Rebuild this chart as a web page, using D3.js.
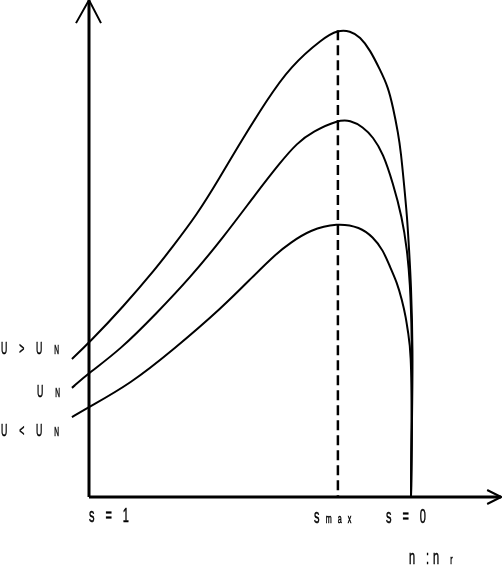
<!DOCTYPE html>
<html>
<head>
<meta charset="utf-8">
<script src="https://cdn.jsdelivr.net/npm/d3@7"></script>
<style>
  body { margin: 0; background: #fff; }
  svg { display: block; will-change: transform; }
  text { font-family: "Liberation Sans", Arial, sans-serif; fill: #000; stroke: #000; stroke-width: 0.5; }
</style>
</head>
<body>
<script>
// slip s (1 = standstill, 0 = synchronous) and torque (1 = peak at U_N)
var sHigh = [1.053, 1.0, 0.894, 0.789, 0.748, 0.665, 0.593, 0.531, 0.447, 0.376, 0.273, 0.227, 0.189, 0.158, 0.127, 0.096, 0.071, 0.056, 0.040, 0.031, 0.022, 0.012, 0.006, 0.0, -0.006, -0.003, 0];
var tHigh = [0.368, 0.411, 0.507, 0.613, 0.659, 0.752, 0.853, 0.944, 1.059, 1.147, 1.224, 1.245, 1.243, 1.227, 1.192, 1.139, 1.093, 1.04, 0.971, 0.917, 0.837, 0.747, 0.659, 0.571, 0.392, 0.205, 0];

var sNom = [1.053, 1.0, 0.904, 0.789, 0.686, 0.584, 0.478, 0.407, 0.354, 0.304, 0.227, 0.189, 0.149, 0.118, 0.087, 0.056, 0.028, 0.012, 0.003, -0.003, -0.003, 0];
var tNom = [0.291, 0.331, 0.392, 0.491, 0.585, 0.691, 0.813, 0.891, 0.944, 0.975, 1.005, 1.005, 0.987, 0.96, 0.917, 0.837, 0.747, 0.659, 0.571, 0.437, 0.205, 0];

var sLow = [1.053, 1.0, 0.873, 0.739, 0.584, 0.491, 0.416, 0.376, 0.314, 0.230, 0.158, 0.118, 0.087, 0.065, 0.043, 0.028, 0.016, 0.009, 0.0, -0.003, 0];
var tLow = [0.213, 0.24, 0.301, 0.392, 0.507, 0.588, 0.651, 0.677, 0.712, 0.731, 0.72, 0.693, 0.659, 0.613, 0.571, 0.525, 0.48, 0.437, 0.392, 0.205, 0];

var sMax = 0.227;
var tPeakHigh = 1.245;
var sAxisEnd = -0.28;   // x axis runs past s = 0
var tAxisEnd = 1.325;   // y axis runs to the top edge

var width = 502, height = 572;

var svg = d3.select("body").append("svg")
  .attr("width", width)
  .attr("height", height);

var x = d3.scaleLinear().domain([1, 0]).range([89, 411]);
var y = d3.scaleLinear().domain([0, 1]).range([497, 122]);

var series = [
  { s: sHigh, t: tHigh },
  { s: sNom, t: tNom },
  { s: sLow, t: tLow }
];

var line = d3.line()
  .x(function(d) { return x(d[0]); })
  .y(function(d) { return y(d[1]); })
  .curve(d3.curveBasis);

// axes
svg.append("line")
  .attr("x1", x(1)).attr("y1", y(0))
  .attr("x2", x(sAxisEnd)).attr("y2", y(0))
  .attr("stroke", "#000").attr("stroke-width", 3);
svg.append("line")
  .attr("x1", x(1)).attr("y1", y(0))
  .attr("x2", x(1)).attr("y2", y(tAxisEnd))
  .attr("stroke", "#000").attr("stroke-width", 3);

// open arrow heads
var xe = x(sAxisEnd), y0 = y(0);
svg.append("path")
  .attr("d", "M" + (xe - 14) + "," + (y0 - 7) + "L" + xe + "," + y0 + "L" + (xe - 14) + "," + (y0 + 7))
  .attr("fill", "none").attr("stroke", "#000").attr("stroke-width", 2);
var xa = x(1), ye = y(tAxisEnd);
svg.append("path")
  .attr("d", "M" + (xa - 13) + "," + (ye + 23) + "L" + xa + "," + ye + "L" + (xa + 12) + "," + (ye + 23))
  .attr("fill", "none").attr("stroke", "#000").attr("stroke-width", 2);

// s_max marker
svg.append("line")
  .attr("x1", x(sMax)).attr("y1", y(tPeakHigh))
  .attr("x2", x(sMax)).attr("y2", y(0))
  .attr("stroke", "#000").attr("stroke-width", 2.5)
  .attr("stroke-dasharray", "10,5");

// torque curves
svg.selectAll("path.curve")
  .data(series)
  .enter()
  .append("path")
  .attr("class", "curve")
  .attr("d", function(d) { return line(d3.zip(d.s, d.t)); })
  .attr("fill", "none")
  .attr("stroke", "#000")
  .attr("stroke-width", 2);

// narrow, widely spaced lettering
function label(px, py, sx, parts) {
  var t = svg.append("text")
    .attr("transform", "translate(" + px + "," + py + ") scale(" + sx + ",1)");
  parts.forEach(function(p) {
    var ts = t.append("tspan")
      .attr("font-size", p.fs)
      .attr("letter-spacing", p.ls)
      .text(p.t);
    if (p.dx) ts.attr("dx", p.dx);
  });
}

label(1, 354, 0.55, [{ t: "U > U ", fs: 16, ls: 8.5 }, { t: "N", fs: 12, ls: 0 }]);
label(37, 397, 0.55, [{ t: "U ", fs: 16, ls: 8.5 }, { t: "N", fs: 12, ls: 0 }]);
label(1, 436, 0.55, [{ t: "U < U ", fs: 16, ls: 8.5 }, { t: "N", fs: 12, ls: 0 }]);

label(89, 522, 0.55, [{ t: "s = 1", fs: 20, ls: 7.2 }]);
label(314, 523, 0.55, [{ t: "s", fs: 20, ls: 7.2 }, { t: "max", fs: 13, ls: 11, dx: 4 }]);
label(386, 523, 0.55, [{ t: "s = 0", fs: 20, ls: 7.2 }]);
label(409, 564, 0.55, [{ t: "n :n ", fs: 20, ls: 7.2 }, { t: "r", fs: 13, ls: 0 }]);
</script>
</body>
</html>
